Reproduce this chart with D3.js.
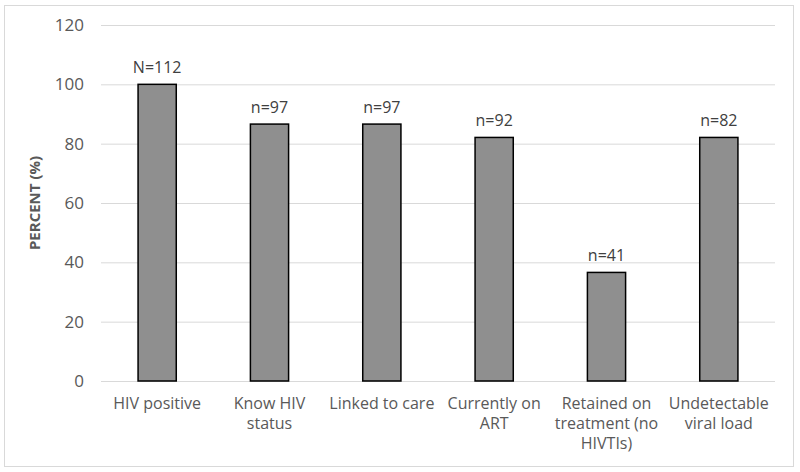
<!DOCTYPE html>
<html><head><meta charset="utf-8">
<script src="https://cdn.jsdelivr.net/npm/d3@7"></script>
<style>body{margin:0;background:#fff}svg{display:block}</style>
</head><body>
<svg id="c" width="800" height="472"></svg>
<script>
const categories = [["HIV positive"],["Know HIV","status"],["Linked to care"],["Currently on","ART"],["Retained on","treatment (no","HIVTIs)"],["Undetectable","viral load"]];
const values = [100, 86.6, 86.6, 82.1, 36.6, 82.1];
const barLabels = ["N=112","n=97","n=97","n=92","n=41","n=82"];
const yTicks = [0,20,40,60,80,100,120];
const yTitle = "PERCENT (%)";

const svg = d3.select("#c");
const font = "'Open Sans', sans-serif";
svg.append("rect").attr("x",4.5).attr("y",5.5).attr("width",789).attr("height",461)
  .attr("fill","#fff").attr("stroke","#d9d9d9");

const m = {l:101, r:775, t:25, b:381};
const x = d3.scaleBand().domain(d3.range(categories.length)).range([m.l,m.r]).paddingInner(0.66).paddingOuter(0.33);
const y = d3.scaleLinear().domain([0,120]).range([m.b,m.t]);

const ya = svg.append("g").attr("transform",`translate(${m.l},0)`)
  .call(d3.axisLeft(y).tickValues(yTicks).tickSize(-(m.r-m.l)).tickPadding(17));
ya.select(".domain").remove();
ya.selectAll(".tick line").attr("stroke","#d9d9d9").attr("stroke-width",1);
ya.selectAll(".tick text").attr("fill","#595959").style("font-family",font).style("font-size","17px");

svg.append("g").selectAll("rect").data(values).join("rect")
  .attr("x",(d,i)=>x(i)).attr("width",x.bandwidth())
  .attr("y",d=>y(d)).attr("height",d=>y(0)-y(d))
  .attr("fill","#8f8f8f").attr("stroke","#000").attr("stroke-width",1.5);

svg.append("g").selectAll("text").data(barLabels).join("text")
  .attr("x",(d,i)=>x(i)+x.bandwidth()/2).attr("y",(d,i)=>y(values[i])-11)
  .attr("text-anchor","middle").attr("fill","#404040")
  .style("font-family",font).style("font-size","16px").text(d=>d);

const cl = svg.append("g").selectAll("text").data(categories).join("text")
  .attr("text-anchor","middle").attr("fill","#595959")
  .style("font-family",font).style("font-size","16px")
  .attr("transform",(d,i)=>`translate(${x(i)+x.bandwidth()/2},${m.b+28})`);
cl.selectAll("tspan").data(d=>d).join("tspan").attr("x",0).attr("dy",(d,j)=>j?20:0).text(d=>d);

svg.append("text").attr("transform",`translate(40,${(m.t+m.b)/2}) rotate(-90)`)
  .attr("text-anchor","middle").attr("fill","#595959")
  .style("font-family",font).style("font-size","15px").style("font-weight","bold").text(yTitle);
</script>
</body></html>
